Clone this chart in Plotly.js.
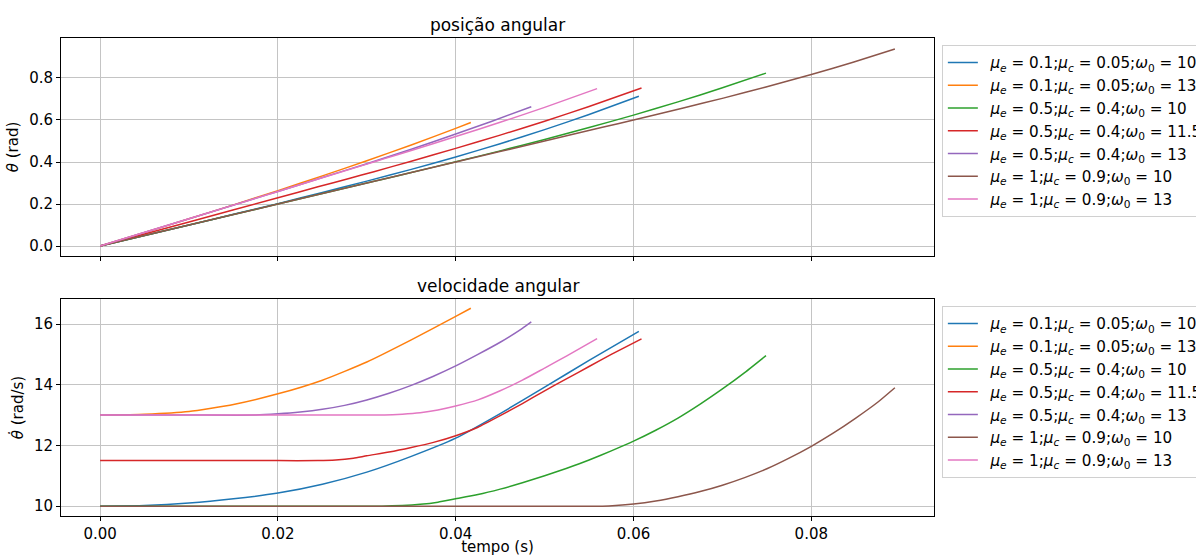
<!DOCTYPE html>
<html>
<head>
<meta charset="utf-8">
<script src="https://cdn.plot.ly/plotly-3.0.1.min.js"></script>
<style>html,body{margin:0;padding:0;background:#fff;}#chart{width:1196px;height:556px;}</style>
</head>
<body>
<div id="chart"></div>
<script>
// ---- data ----
var labels = [
  "<i>μ</i><sub><i>e</i></sub> = 0.1;<i>μ</i><sub><i>c</i></sub> = 0.05;<i>ω</i><sub>0</sub> = 10",
  "<i>μ</i><sub><i>e</i></sub> = 0.1;<i>μ</i><sub><i>c</i></sub> = 0.05;<i>ω</i><sub>0</sub> = 13",
  "<i>μ</i><sub><i>e</i></sub> = 0.5;<i>μ</i><sub><i>c</i></sub> = 0.4;<i>ω</i><sub>0</sub> = 10",
  "<i>μ</i><sub><i>e</i></sub> = 0.5;<i>μ</i><sub><i>c</i></sub> = 0.4;<i>ω</i><sub>0</sub> = 11.5",
  "<i>μ</i><sub><i>e</i></sub> = 0.5;<i>μ</i><sub><i>c</i></sub> = 0.4;<i>ω</i><sub>0</sub> = 13",
  "<i>μ</i><sub><i>e</i></sub> = 1;<i>μ</i><sub><i>c</i></sub> = 0.9;<i>ω</i><sub>0</sub> = 10",
  "<i>μ</i><sub><i>e</i></sub> = 1;<i>μ</i><sub><i>c</i></sub> = 0.9;<i>ω</i><sub>0</sub> = 13"
];

// --- angular position (theta, rad) ---
var tp1 = [0, 0.005, 0.01, 0.015, 0.02, 0.025, 0.03, 0.035, 0.04, 0.045, 0.05, 0.055, 0.0606];
var th1 = [0, 0.05, 0.1, 0.151, 0.202, 0.255, 0.309, 0.365, 0.424, 0.487, 0.554, 0.626, 0.713];
var tp2 = [0, 0.005, 0.01, 0.015, 0.02, 0.025, 0.03, 0.035, 0.04, 0.0417];
var th2 = [0, 0.065, 0.13, 0.196, 0.264, 0.334, 0.406, 0.481, 0.56, 0.588];
var tp3 = [0, 0.01, 0.02, 0.03, 0.0317, 0.035, 0.04, 0.045, 0.05, 0.055, 0.06, 0.065, 0.07, 0.0749];
var th3 = [0, 0.1, 0.2, 0.3, 0.317, 0.35, 0.401, 0.453, 0.507, 0.564, 0.623, 0.686, 0.753, 0.823];
var tp4 = [0, 0.01, 0.02, 0.0245, 0.028, 0.0308, 0.035, 0.04, 0.045, 0.05, 0.055, 0.0609];
var th4 = [0, 0.115, 0.23, 0.282, 0.322, 0.354, 0.404, 0.465, 0.528, 0.594, 0.664, 0.752];
var tp5 = [0, 0.01, 0.0175, 0.02, 0.025, 0.03, 0.035, 0.04, 0.044, 0.0485];
var th5 = [0, 0.13, 0.2275, 0.26, 0.326, 0.392, 0.461, 0.533, 0.593, 0.663];
var tp6 = [0, 0.01, 0.02, 0.03, 0.04, 0.05, 0.0565, 0.06, 0.0656, 0.0701, 0.0749, 0.08, 0.0847, 0.0894];
var th6 = [0, 0.1, 0.2, 0.3, 0.4, 0.5, 0.565, 0.6, 0.657, 0.704, 0.757, 0.816, 0.875, 0.938];
var tp7 = [0, 0.01, 0.02, 0.03, 0.032, 0.035, 0.04, 0.045, 0.05, 0.0559];
var th7 = [0, 0.13, 0.26, 0.39, 0.416, 0.455, 0.521, 0.589, 0.66, 0.749];

// --- angular velocity (theta dot, rad/s) ---
var tv1 = [0, 0.005, 0.01, 0.015, 0.02, 0.025, 0.03, 0.035, 0.04, 0.045, 0.05, 0.055, 0.0606];
var w1  = [10, 10.02, 10.1, 10.24, 10.43, 10.72, 11.12, 11.64, 12.24, 13.05, 13.92, 14.8, 15.76];
var tv2 = [0, 0.005, 0.01, 0.015, 0.02, 0.025, 0.03, 0.035, 0.04, 0.0417];
var w2  = [13, 13.03, 13.12, 13.35, 13.70, 14.15, 14.75, 15.48, 16.25, 16.52];
var tv3 = [0, 0.01, 0.02, 0.03, 0.0317, 0.034, 0.036, 0.038, 0.04, 0.0425, 0.045, 0.0475, 0.05, 0.0525,
           0.055, 0.0575, 0.06, 0.0625, 0.065, 0.0675, 0.07, 0.0725, 0.0749];
var w3  = [10, 10, 10, 10, 10, 10.02, 10.06, 10.13, 10.24, 10.38, 10.56, 10.77, 11.0, 11.25,
           11.52, 11.82, 12.14, 12.5, 12.9, 13.36, 13.86, 14.4, 14.96];
var tv4 = [0, 0.01, 0.02, 0.0245, 0.0265, 0.0285, 0.03, 0.0325, 0.035, 0.0375, 0.04, 0.0425, 0.045,
           0.0475, 0.05, 0.0525, 0.055, 0.0575, 0.0609];
var w4  = [11.5, 11.5, 11.5, 11.5, 11.52, 11.58, 11.66, 11.78, 11.93, 12.1, 12.32, 12.6, 12.98,
           13.38, 13.8, 14.2, 14.6, 15.0, 15.51];
var tv5 = [0, 0.01, 0.0175, 0.02, 0.0225, 0.025, 0.0275, 0.03, 0.0325, 0.035, 0.0375, 0.04, 0.0425,
           0.045, 0.0475, 0.0485];
var w5  = [13, 13, 13, 13.04, 13.1, 13.19, 13.32, 13.5, 13.72, 13.98, 14.28, 14.62, 15.0,
           15.4, 15.86, 16.07];
var tv6 = [0, 0.01, 0.02, 0.03, 0.04, 0.05, 0.0565, 0.058, 0.06, 0.0625, 0.065, 0.0675, 0.07, 0.0725,
           0.075, 0.0775, 0.08, 0.0825, 0.085, 0.0875, 0.0894];
var w6  = [10, 10, 10, 10, 10, 10, 10, 10.02, 10.07, 10.17, 10.31, 10.48, 10.69, 10.94,
           11.23, 11.58, 11.97, 12.41, 12.9, 13.43, 13.9];
var tv7 = [0, 0.01, 0.02, 0.03, 0.032, 0.034, 0.036, 0.038, 0.04, 0.0425, 0.045, 0.0475, 0.05, 0.0525, 0.0559];
var w7  = [13, 13, 13, 13, 13, 13.03, 13.08, 13.17, 13.3, 13.5, 13.8, 14.15, 14.55, 14.95, 15.52];

var xTicks = [0, 0.02, 0.04, 0.06, 0.08];
var thetaTicks = [0, 0.2, 0.4, 0.6, 0.8];
var omegaTicks = [10, 12, 14, 16];

// ---- styling ----
var colors = ["#1f77b4", "#ff7f0e", "#2ca02c", "#d62728", "#9467bd", "#8c564b", "#e377c2"];
var tps = [tp1, tp2, tp3, tp4, tp5, tp6, tp7];
var ths = [th1, th2, th3, th4, th5, th6, th7];
var tvs = [tv1, tv2, tv3, tv4, tv5, tv6, tv7];
var ws  = [w1, w2, w3, w4, w5, w6, w7];

var FONT = "DejaVu Sans, sans-serif";
var PAD = "\u2002";
var traces = [];
for (var i = 0; i < 7; i++) {
  traces.push({x: tps[i], y: ths[i], xaxis: "x2", yaxis: "y2", type: "scatter", mode: "lines",
    name: PAD + labels[i], line: {color: colors[i], width: 1.5, shape: "spline", smoothing: 0.5}, legend: "legend"});
}
for (var j = 0; j < 7; j++) {
  traces.push({x: tvs[j], y: ws[j], xaxis: "x", yaxis: "y", type: "scatter", mode: "lines",
    name: PAD + labels[j], line: {color: colors[j], width: 1.5, shape: "spline", smoothing: 0.5}, legend: "legend2"});
}

var gridColor = "#c4c4c4";
var axCommon = {
  showline: true, mirror: true, linecolor: "#000", linewidth: 1,
  ticks: "outside", ticklen: 4, tickwidth: 1, tickcolor: "#000",
  showgrid: true, gridcolor: gridColor, gridwidth: 1, zeroline: false,
  tickfont: {family: FONT, size: 15, color: "#000"}
};
function ax(extra) { var o = {}; for (var k in axCommon) o[k] = axCommon[k]; for (var k2 in extra) o[k2] = extra[k2]; return o; }

var legendCommon = {
  xanchor: "left", yanchor: "top", x: 1.009,
  bgcolor: "rgba(255,255,255,0.8)", bordercolor: "#d0d0d0", borderwidth: 1,
  font: {family: FONT, size: 15.2, color: "#000"}, itemwidth: 30
};
var leg1 = {}; var leg2 = {};
for (var k in legendCommon) { leg1[k] = legendCommon[k]; leg2[k] = legendCommon[k]; }
leg1.y = 0.985; leg2.y = 0.439;

var layout = {
  width: 1196, height: 556,
  paper_bgcolor: "#fff", plot_bgcolor: "#fff",
  margin: {l: 61, r: 262, t: 38, b: 40, autoexpand: false},
  font: {family: FONT, size: 15, color: "#000"},
  title: {text: "posição angular", font: {family: FONT, size: 17, color: "#000"},
          x: 0.416, xanchor: "center", y: 0.955, yanchor: "middle", xref: "container", yref: "container"},
  showlegend: true,
  legend: leg1, legend2: leg2,
  xaxis: ax({domain: [0, 1], anchor: "y", range: [-0.0044, 0.0938], tickvals: xTicks, tickformat: ".2f",
    title: {text: "tempo (s)", font: {family: FONT, size: 15, color: "#000"}, standoff: 3}}),
  yaxis: ax({domain: [0, 0.454], anchor: "x", range: [9.675, 16.825], tickvals: omegaTicks,
    title: {text: "<i>θ̇</i> (rad/s)", font: {family: FONT, size: 15, color: "#000"}, standoff: 6}}),
  xaxis2: ax({domain: [0, 1], anchor: "y2", matches: "x", range: [-0.0044, 0.0938], tickvals: xTicks, showticklabels: false}),
  yaxis2: ax({domain: [0.544, 1], anchor: "x2", range: [-0.047, 0.99], tickvals: thetaTicks, tickformat: ".1f",
    title: {text: "<i>θ</i> (rad)", font: {family: FONT, size: 15, color: "#000"}, standoff: 6}}),
  annotations: [{text: "velocidade angular", xref: "paper", yref: "paper", x: 0.5, y: 0.481,
    xanchor: "center", yanchor: "middle", showarrow: false, font: {family: FONT, size: 17, color: "#000"}}]
};

Plotly.newPlot("chart", traces, layout, {displayModeBar: false, staticPlot: true});
</script>
</body>
</html>
